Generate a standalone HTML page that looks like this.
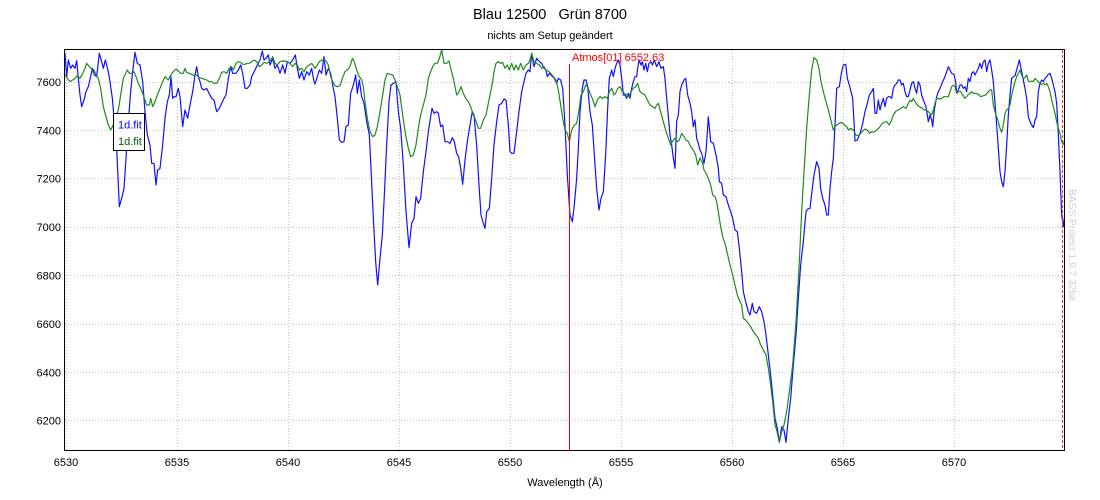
<!DOCTYPE html>
<html>
<head>
<meta charset="utf-8">
<style>
html,body{margin:0;padding:0;background:#fff;}
svg{display:block;}
text{font-family:"Liberation Sans",Arial,sans-serif;}
.p{fill:none;stroke-linejoin:round;stroke-linecap:round;}
</style>
</head>
<body>
<svg width="1100" height="500" viewBox="0 0 1100 500" xmlns="http://www.w3.org/2000/svg">
<rect x="0" y="0" width="1100" height="500" fill="#fff"/>
<defs>
<clipPath id="c"><rect x="65" y="49.5" width="999" height="401"/></clipPath>
</defs>
<!-- title -->
<text x="550" y="19" font-size="14.5" text-anchor="middle" fill="#000" style="white-space:pre">Blau 12500   Grün 8700</text>
<text x="550" y="39" font-size="11" text-anchor="middle" fill="#000">nichts am Setup geändert</text>

<!-- grid -->
<g stroke="#c4c4c4" stroke-width="1" stroke-dasharray="1,2">
<line x1="66.5" y1="50" x2="66.5" y2="450"/>
<line x1="177.5" y1="50" x2="177.5" y2="450"/>
<line x1="288.5" y1="50" x2="288.5" y2="450"/>
<line x1="399.5" y1="50" x2="399.5" y2="450"/>
<line x1="510.5" y1="50" x2="510.5" y2="450"/>
<line x1="621.5" y1="50" x2="621.5" y2="450"/>
<line x1="732.5" y1="50" x2="732.5" y2="450"/>
<line x1="843.5" y1="50" x2="843.5" y2="450"/>
<line x1="954.5" y1="50" x2="954.5" y2="450"/>
<line x1="65" y1="82.5" x2="1064" y2="82.5"/>
<line x1="65" y1="130.5" x2="1064" y2="130.5"/>
<line x1="65" y1="178.5" x2="1064" y2="178.5"/>
<line x1="65" y1="227.5" x2="1064" y2="227.5"/>
<line x1="65" y1="275.5" x2="1064" y2="275.5"/>
<line x1="65" y1="324.5" x2="1064" y2="324.5"/>
<line x1="65" y1="372.5" x2="1064" y2="372.5"/>
<line x1="65" y1="420.5" x2="1064" y2="420.5"/>
</g>

<!-- curves -->
<g clip-path="url(#c)">
<g stroke="#1010ff" stroke-width="1.2" class="p">
<polyline class="p" vector-effect="non-scaling-stroke" transform="translate(60,45) scale(0.33333)" points="15,25 20,95 25,45 32,70 38,60 45,70 50,47 55,100 60,150 65,185 72,165 78,140 85,125 92,95 97,70 103,90 110,95 118,25 125,50 130,70 136,45 145,80 150,110 157,160 163,230 170,310 178,485 185,460 192,430 198,340 205,230 212,140 218,80 225,22 232,55 240,60 248,110 255,200 262,270 270,300 275,355 282,355 288,420 293,375 300,370 308,300 315,220 322,170 328,150 333,95 338,160 342,155 348,155 355,130 360,155 368,245 375,195 383,220 390,180 398,140 405,90 410,65 415,95 420,110 425,130 432,135 440,130 447,145 455,160 462,165 470,200 478,190 485,175 492,160 498,150 505,100 512,65 518,85 528,85 535,75 542,60 548,85 555,130 562,130 570,120 575,95 585,75 592,60 600,45 607,18 612,45 618,40 625,30 630,60 638,40 645,70 652,60 660,85 668,60 675,85 682,50 690,55 698,45 706,30 712,70 718,100 725,80 732,105 740,80 748,90 755,70 762,110 765,117"/>
<polyline class="p" vector-effect="non-scaling-stroke" transform="translate(310,45) scale(0.33333)" points="15,117 22,95 28,75 35,85 42,35 48,90 55,70 62,85 68,120 75,155 82,220 88,285 95,292 102,290 108,245 115,240 122,145 130,120 137,90 142,145 148,105 155,155 162,175 170,230 178,270 183,370 190,520 197,650 203,720 210,640 217,570 223,450 230,300 237,170 243,120 250,115 258,110 265,200 272,250 280,360 288,500 297,608 305,535 312,520 318,455 325,475 332,460 340,380 348,320 355,260 362,215 366,190 372,205 380,200 385,205 392,245 398,240 405,290 412,290 420,295 427,278 433,290 440,325 446,335 452,370 458,418 465,345 472,290 480,240 487,200 492,210 500,300 507,420 513,510 520,535 525,550 530,500 538,490 545,400 552,300 560,230 567,180 575,175 582,162 588,165 595,240 600,320 605,325 612,325 620,260 627,200 635,140 642,110 648,85 655,75 660,80 665,25 672,65 680,40 688,50 695,55 702,70 708,75 712,95 718,85 725,92 733,100 740,115 745,100 752,105 758,130 765,240 772,390 778,480"/>
<polyline class="p" vector-effect="non-scaling-stroke" transform="translate(565,45) scale(0.33333)" points="13,480 15,510 22,530 28,480 35,400 40,310 45,200 52,130 57,105 63,105 68,125 75,200 82,240 88,330 95,430 102,495 108,460 115,440 122,330 128,190 133,100 140,75 145,95 150,70 155,55 160,45 165,60 170,100 175,150 180,150 185,160 190,145 195,160 200,130 205,110 210,95 215,95 218,70 222,45 228,60 232,50 237,75 242,55 247,80 252,55 258,50 262,60 268,45 275,65 282,50 288,70 295,65 300,100 305,160 310,215 315,270 320,300 325,340 330,370 335,230 340,210 345,140 350,120 357,105 362,100 368,150 375,175 380,200 385,245 390,225 395,280 400,295 405,315"/>
<polyline class="p" vector-effect="non-scaling-stroke" transform="translate(700,45) scale(0.33333)" points="0,315 5,325 12,355 18,320 25,215 32,290 40,295 48,330 55,370 58,410 65,415 70,450 78,455 85,480 92,500 98,520 105,555 112,560 118,610 125,680 130,740 137,770 145,800 150,810 157,775 162,800 170,805 178,785 185,800 192,830 198,870 205,930 212,990 218,1050 225,1120 232,1150 238,1192 245,1145 252,1155 258,1192 265,1120 272,1060 280,960 288,870 295,760 302,660 310,590 318,500 322,493 330,490 337,430 342,390 350,350 357,370 362,430 368,460 375,480 380,510 385,510 390,430"/>
<polyline class="p" vector-effect="non-scaling-stroke" transform="translate(830,45) scale(0.33333)" points="0,430 5,380 10,340 15,240 20,130 28,125 35,80 40,60 47,58 52,100 58,120 63,140 68,160 72,230 75,288 82,285 90,265 97,240 105,200 112,175 118,150 125,140 130,130 135,205 140,205 145,165 150,195 155,175 160,160 165,185 170,160 175,155 180,155 185,160 190,130 195,120 200,115 205,105 210,105 215,120 220,115 225,140 230,155 235,155 240,135 245,115 250,110 255,130 260,145 265,110 270,120 275,150 280,165 288,185 295,230 300,210 305,225 308,245 313,195 320,155 325,140 330,130 338,110 345,95 350,80 355,65 360,75 365,85 372,88 377,110 380,145 385,135 390,120 395,120 400,130 405,125 410,140 415,100 420,110 425,85 430,80 435,90 440,80 445,70 450,55 455,70 460,50 465,45 470,80 475,55 480,45 485,75 490,110 495,175 500,240 505,310 510,380 515,410 520,425 525,380 530,300 535,210 540,150 545,100 550,95 555,92 560,75 568,45 575,80 580,105 585,130 590,160 595,215 600,230 605,240 610,248 615,225 620,215 625,140 630,115 635,105 640,110 645,100 650,95 655,88 660,85 665,100 670,120 675,140 680,175 685,270 690,380 695,510 700,545 705,500"/>
</g>
<g stroke="#1f8a1f" stroke-width="1.2" class="p">
<polyline class="p" vector-effect="non-scaling-stroke" transform="translate(60,45) scale(0.33333)" points="15,90 22,100 30,110 38,105 45,100 52,92 60,100 68,85 75,70 80,55 88,65 95,72 102,75 108,90 115,100 122,130 130,185 138,215 145,240 152,255 160,240 168,215 175,195 182,150 190,100 197,85 202,75 208,85 215,85 222,80 228,95 235,115 242,130 250,150 255,165 260,180 268,180 272,160 278,185 285,170 292,150 300,130 308,110 315,95 320,100 325,105 332,90 340,80 348,72 355,78 362,85 370,85 375,70 380,82 388,85 395,88 402,92 410,90 418,98 425,100 432,102 440,105 448,110 455,110 462,115 470,115 478,100 485,82 492,80 500,85 508,70 515,65 520,75 528,55 535,50 542,52 548,58 555,58 562,55 568,55 575,50 582,45 590,50 598,65 605,60 612,52 620,55 628,50 632,45 638,35 645,55 652,60 660,50 668,48 675,48 682,50 690,55 698,65 705,55 712,60 718,75 725,70 732,80 740,65 748,60 755,55 762,65 765,70"/>
<polyline class="p" vector-effect="non-scaling-stroke" transform="translate(310,45) scale(0.33333)" points="15,70 22,60 28,50 35,45 42,48 48,47 55,60 62,95 68,110 75,122 82,125 90,122 97,100 105,80 112,75 120,65 127,40 133,50 140,75 148,95 155,105 160,125 165,170 172,220 180,260 188,275 195,270 202,245 210,200 218,150 225,105 232,85 240,88 248,90 255,105 262,125 270,150 278,210 287,270 295,310 302,335 310,330 318,300 325,250 332,210 340,180 348,150 355,100 362,80 368,65 375,55 382,55 388,40 395,15 402,55 410,55 417,48 422,70 430,100 440,150 447,140 453,125 460,145 467,160 475,170 482,185 490,210 497,225 505,250 512,250 520,225 528,210 535,175 542,140 548,110 552,80 558,55 565,50 572,55 578,52 585,70 592,60 598,75 605,55 612,75 618,60 625,75 632,55 640,75 648,60 655,55 660,45 665,25 672,50 680,55 688,60 695,70 702,65 708,75 715,78 722,85 730,95 738,105 745,135 752,180 758,220 765,255 772,265 778,290"/>
<polyline class="p" vector-effect="non-scaling-stroke" transform="translate(565,45) scale(0.33333)" points="13,290 20,255 28,240 35,235 42,195 48,150 55,140 62,120 68,125 75,145 82,160 90,185 97,165 105,155 112,160 120,155 127,160 133,140 140,130 147,150 152,145 158,130 165,125 172,140 178,145 185,150 192,155 198,140 205,130 212,125 218,115 225,140 232,145 240,150 247,165 255,180 262,185 270,190 275,180 280,175 287,200 295,230 302,255 310,280 317,300 322,290 330,280 337,290 343,285 350,265 357,275 363,285 370,290 377,305 385,315 392,330 398,360 405,339"/>
<polyline class="p" vector-effect="non-scaling-stroke" transform="translate(700,45) scale(0.33333)" points="0,339 8,355 12,375 18,385 25,400 32,420 38,450 45,455 50,470 55,500 62,545 68,575 75,595 82,625 90,660 98,690 105,720 112,750 118,765 125,780 130,820 137,825 145,835 152,845 160,860 168,870 175,880 182,900 190,915 198,930 205,970 212,1020 218,1070 225,1140 230,1155 238,1192 245,1160 252,1140 260,1100 268,1040 278,960 288,830 298,650 305,500 312,380 320,250 328,150 335,75 342,38 350,45 357,70 363,110 370,140 378,170 385,195 390,215"/>
<polyline class="p" vector-effect="non-scaling-stroke" transform="translate(830,45) scale(0.33333)" points="0,215 5,235 10,255 15,245 20,240 28,235 35,232 42,238 50,245 55,255 62,250 70,255 78,270 85,272 92,265 98,258 105,252 112,255 118,265 125,260 132,262 140,255 148,248 155,238 162,232 170,230 177,240 183,230 190,210 198,198 205,195 212,190 220,185 228,190 235,175 240,165 245,170 250,160 255,170 262,180 268,185 275,188 282,195 288,195 295,200 300,205 305,210 310,195 315,175 320,160 328,162 335,160 342,155 350,155 355,155 360,140 365,125 370,120 375,125 380,145 385,140 392,140 398,150 405,160 410,155 415,148 420,145 425,140 430,145 438,145 445,148 452,155 460,152 467,150 475,140 480,135 485,135 490,180 495,200 500,215 505,230 510,250 515,262 520,240 525,205 530,195 535,190 540,180 545,150 550,130 555,110 560,95 565,85 570,75 575,90 580,100 585,98 590,90 595,108 600,110 605,108 610,110 615,100 620,105 625,110 630,115 635,118 640,115 645,120 650,115 655,125 660,140 665,165 670,185 675,205 680,230 685,250 690,265 695,290 700,298 705,280"/>
</g>
</g>

<!-- red markers -->
<line x1="569.5" y1="64" x2="569.5" y2="450" stroke="#ff0000" stroke-width="1"/>
<text x="572" y="61" font-size="11" fill="#ff0000">Atmos[01] 6552.63</text>
<line x1="1062.5" y1="50" x2="1062.5" y2="450" stroke="#ff3030" stroke-width="1" stroke-dasharray="3,2"/>

<!-- frame -->
<rect x="64.5" y="49.5" width="1000" height="401" fill="none" stroke="#000" stroke-width="1"/>

<!-- legend -->
<rect x="113.5" y="113.5" width="31" height="37" fill="#fff" stroke="#000" stroke-width="1"/>
<text x="118" y="128.5" font-size="11" fill="#0000ff">1d.fit</text>
<text x="118" y="145" font-size="11" fill="#006400">1d.fit</text>

<!-- y labels -->
<g font-size="11" fill="#000" text-anchor="end">
<text x="61" y="86">7600</text>
<text x="61" y="134.5">7400</text>
<text x="61" y="182.5">7200</text>
<text x="61" y="231">7000</text>
<text x="61" y="279.5">6800</text>
<text x="61" y="328">6600</text>
<text x="61" y="376.5">6400</text>
<text x="61" y="424.5">6200</text>
</g>
<!-- x labels -->
<g font-size="11" fill="#000" text-anchor="middle">
<text x="66" y="466">6530</text>
<text x="177" y="466">6535</text>
<text x="288" y="466">6540</text>
<text x="399" y="466">6545</text>
<text x="510" y="466">6550</text>
<text x="621" y="466">6555</text>
<text x="732" y="466">6560</text>
<text x="843" y="466">6565</text>
<text x="954" y="466">6570</text>
</g>
<text x="565" y="486" font-size="11" fill="#000" text-anchor="middle">Wavelength (Å)</text>

<!-- watermark -->
<text transform="translate(1069,189) rotate(90)" font-size="10.2" fill="#cfcfd6">BASS Project 1.9.7  32bit</text>
</svg>
</body>
</html>
